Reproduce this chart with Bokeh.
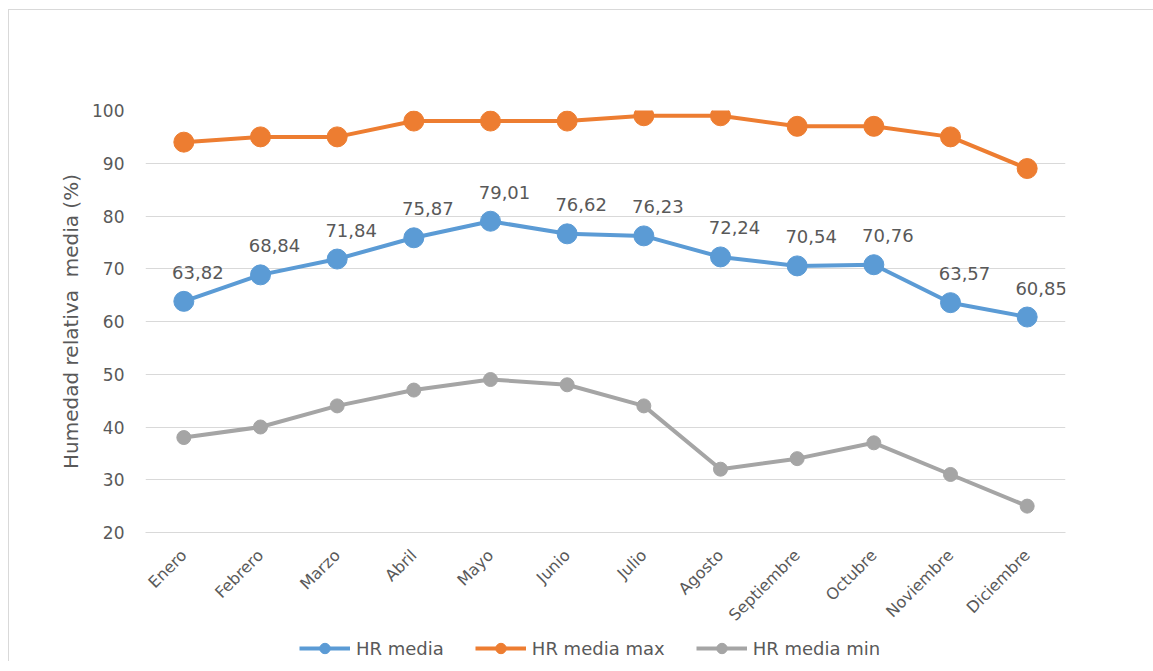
import math
from bokeh.plotting import figure
from bokeh.layouts import column
from bokeh.models import (Range1d, FactorRange, Legend, LegendItem,
                          ColumnDataSource, FixedTicker)
from bokeh.core.properties import value
from bokeh.embed import file_html
from bokeh.resources import INLINE

months = ["Enero", "Febrero", "Marzo", "Abril", "Mayo", "Junio", "Julio",
          "Agosto", "Septiembre", "Octubre", "Noviembre", "Diciembre"]
hr_media = [63.82, 68.84, 71.84, 75.87, 79.01, 76.62, 76.23, 72.24, 70.54, 70.76, 63.57, 60.85]
hr_max = [94, 95, 95, 98, 98, 98, 99, 99, 97, 97, 95, 89]
hr_min = [38, 40, 44, 47, 49, 48, 44, 32, 34, 37, 31, 25]
y_ticks = [20, 30, 40, 50, 60, 70, 80, 90, 100]
series_names = ["HR media", "HR media max", "HR media min"]

media_labels = [f"{v:.2f}".replace(".", ",") for v in hr_media]

FONT = "DejaVu Sans"
TXT = "#595959"
BLUE = "#5B9BD5"
ORANGE = "#ED7D31"
GRAY = "#A5A5A5"
colors = [BLUE, ORANGE, GRAY]
marker_sizes = [20, 20, 14]

src = ColumnDataSource(dict(month=months, media=hr_media, mx=hr_max, mn=hr_min,
                            lab=media_labels))

p = figure(x_range=FactorRange(*months), y_range=Range1d(20, 100),
           width=1145, height=625, output_backend="svg", toolbar_location=None,
           min_border_left=136, min_border_right=89, min_border_top=100,
           min_border_bottom=103)
p.outline_line_color = None
p.background_fill_color = "white"
p.border_fill_color = "white"

# grids / axes
p.xgrid.grid_line_color = None
p.ygrid.grid_line_color = "#d9d9d9"
p.ygrid.grid_line_width = 1
p.yaxis.ticker = FixedTicker(ticks=y_ticks)
p.yaxis.axis_line_color = None
p.yaxis.major_tick_line_color = None
p.yaxis.minor_tick_line_color = None
p.yaxis.major_label_text_font = FONT
p.yaxis.major_label_text_font_size = "17px"
p.yaxis.major_label_text_color = TXT
p.yaxis.major_label_standoff = 15
p.yaxis.axis_label = "Humedad relativa \u00a0media (%)"
p.yaxis.axis_label_text_font = FONT
p.yaxis.axis_label_text_font_size = "20px"
p.yaxis.axis_label_text_font_style = "normal"
p.yaxis.axis_label_text_color = TXT
p.yaxis.axis_label_standoff = 6

p.xaxis.axis_line_color = "#d9d9d9"
p.xaxis.axis_line_width = 1
p.xaxis.major_tick_line_color = None
p.xaxis.minor_tick_line_color = None
p.xaxis.major_label_orientation = math.pi / 4
p.xaxis.major_label_text_font = FONT
p.xaxis.major_label_text_font_size = "16px"
p.xaxis.major_label_text_color = TXT
p.xaxis.major_label_standoff = 14

# series
p.line("month", "media", source=src, line_color=BLUE, line_width=4)
p.scatter("month", "media", source=src, size=marker_sizes[0], fill_color=BLUE, line_color=BLUE)
p.line("month", "mx", source=src, line_color=ORANGE, line_width=4)
p.scatter("month", "mx", source=src, size=marker_sizes[1], fill_color=ORANGE, line_color=ORANGE)
p.line("month", "mn", source=src, line_color=GRAY, line_width=4)
p.scatter("month", "mn", source=src, size=marker_sizes[2], fill_color=GRAY, line_color=GRAY)

p.text(x="month", y="media", text="lab", source=src,
       text_font=value(FONT), text_font_size="18px", text_color=TXT,
       text_align="center", text_baseline="alphabetic",
       x_offset=14, y_offset=-29)

# legend strip below the chart (its frame is aligned with the main frame)
lg = figure(width=1145, height=26, output_backend="svg", toolbar_location=None,
            x_range=Range1d(0, 1), y_range=Range1d(0, 1), min_border=0)
lg.axis.visible = False
lg.grid.visible = False
lg.outline_line_color = None
lg.border_fill_color = "white"
nan = float("nan")
items = []
for name, c, s in zip(series_names, colors, marker_sizes):
    lr = lg.line(x=[nan], y=[nan], line_color=c, line_width=4)
    sr = lg.scatter(x=[nan], y=[nan], size=s, fill_color=c, line_color=c)
    items.append(LegendItem(label=name, renderers=[lr, sr]))
legend = Legend(items=items, orientation="horizontal", location=(154, 0),
                glyph_width=51, glyph_height=26, label_height=26,
                label_standoff=6, spacing=31, padding=0, margin=0,
                border_line_color=None, background_fill_alpha=0,
                label_text_font=FONT, label_text_font_size="18px",
                label_text_color=TXT)
lg.add_layout(legend, "center")

layout = column(p, lg, spacing=0)
layout.styles = {"margin-left": "8px", "margin-top": "9px",
                 "border-left": "1px solid #d9d9d9", "border-top": "1px solid #d9d9d9"}

open("out.html", "w").write(file_html(layout, INLINE))
